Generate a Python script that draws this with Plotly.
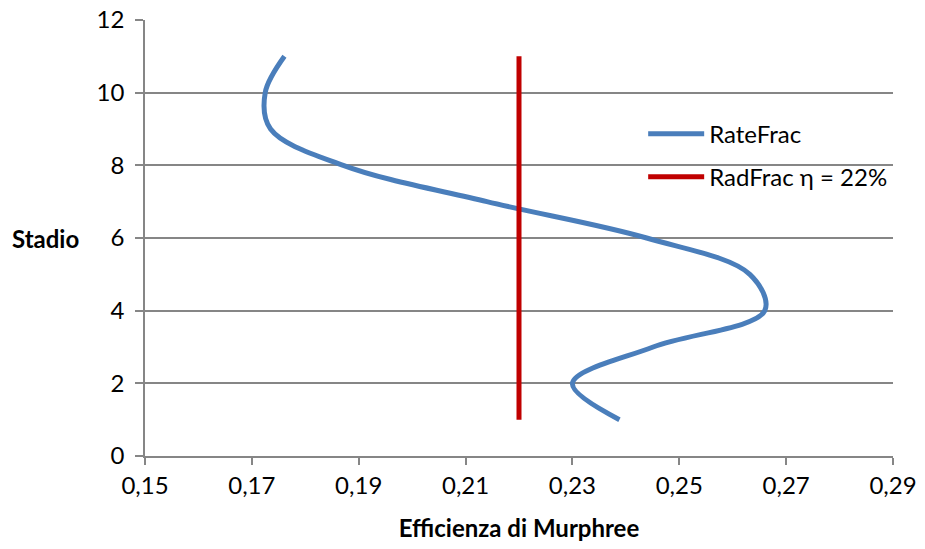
import plotly.graph_objects as go

# Stage number (1 = bottom) and Murphree efficiency per stage
stadio = [1, 2, 3, 4, 5, 6, 7, 8, 9, 10, 11]
eff_ratefrac = [0.2388, 0.2300, 0.2451, 0.2660, 0.2632, 0.2439, 0.2140, 0.1871, 0.1735, 0.1725, 0.1761]
eff_radfrac = [0.22] * len(stadio)

x_ticks = [0.15, 0.17, 0.19, 0.21, 0.23, 0.25, 0.27, 0.29]
y_ticks = [0, 2, 4, 6, 8, 10, 12]

FONT = "Lato"
FS = 24
GRID = "#868686"

fig = go.Figure()
fig.add_trace(go.Scatter(
    x=eff_ratefrac, y=stadio, mode="lines", name="RateFrac",
    line=dict(color="#4A7EBB", width=5, shape="spline", smoothing=1.0),
    legendgroup="a",
))
fig.add_trace(go.Scatter(
    x=eff_radfrac, y=stadio, mode="lines", name="RadFrac η = 22%",
    line=dict(color="#C00000", width=5),
    legendgroup="b",
))

fig.update_layout(
    width=925, height=549,
    margin=dict(l=145, r=32, t=20, b=93),
    paper_bgcolor="white", plot_bgcolor="white",
    separators=",.",
    font=dict(family=FONT, size=FS, color="#000000"),
    showlegend=True,
    legend=dict(
        x=0.666, y=0.79, xanchor="left", yanchor="top",
        bgcolor="rgba(0,0,0,0)", font=dict(size=FS, family=FONT),
        tracegroupgap=9, itemwidth=56,
    ),
    xaxis=dict(
        range=[0.15, 0.29], tickvals=x_ticks, tickformat=".2f",
        showgrid=False, zeroline=False, automargin=False,
        showline=True, linecolor=GRID, linewidth=1.5,
        ticks="outside", ticklen=7, tickcolor=GRID, tickwidth=1.5,
        tickfont=dict(size=FS, family=FONT),
        title=dict(text="<b>Efficienza di Murphree</b>", font=dict(size=FS, family=FONT), standoff=23),
    ),
    yaxis=dict(
        range=[0, 12], tickvals=y_ticks,
        showgrid=True, gridcolor=GRID, gridwidth=1.5, zeroline=False, automargin=False,
        showline=True, linecolor=GRID, linewidth=1.5,
        ticks="outside", ticklen=8, tickcolor=GRID, tickwidth=1.5,
        ticklabelstandoff=6,
        tickfont=dict(size=FS, family=FONT),
    ),
)
fig.add_annotation(
    text="<b>Stadio</b>", xref="paper", yref="y", x=-0.133, y=6,
    xanchor="center", yanchor="middle", showarrow=False,
    font=dict(size=FS, family=FONT),
)

fig.write_html("out.html")
